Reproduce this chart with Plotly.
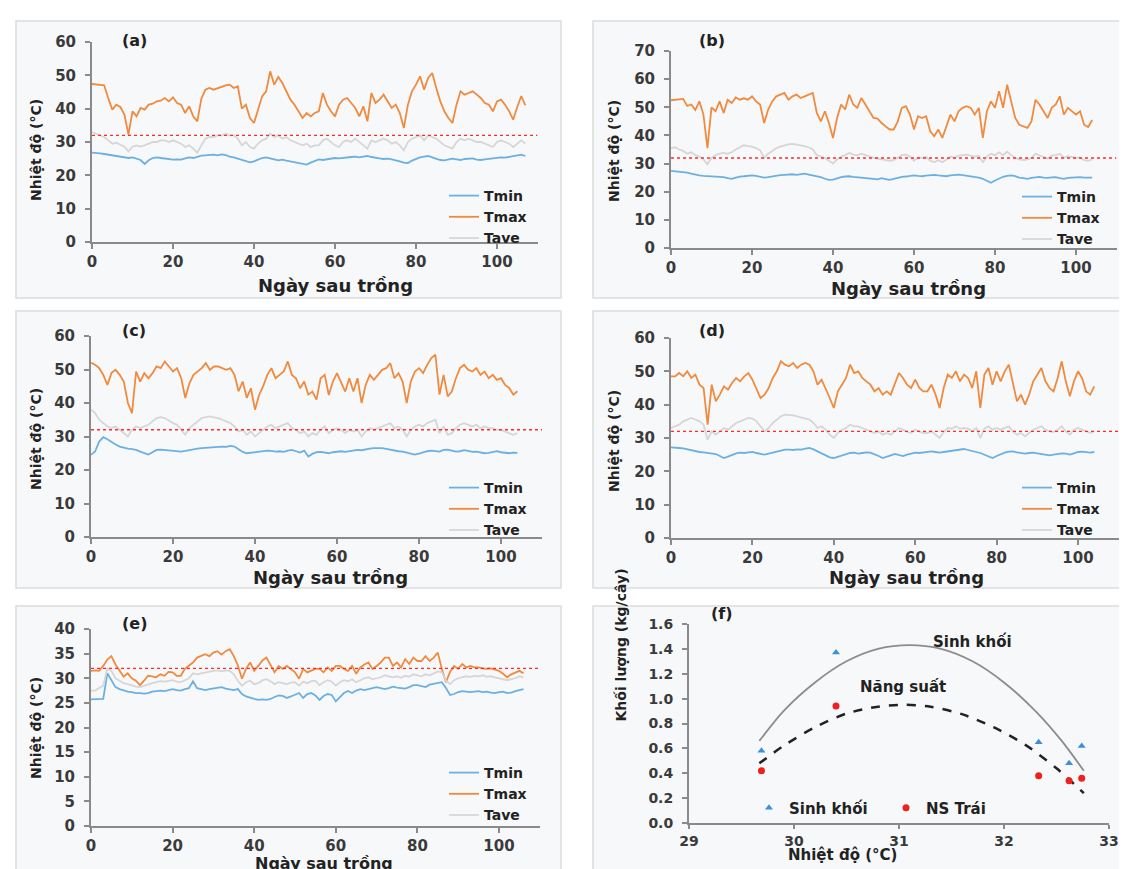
import plotly.graph_objects as go

W, H = 1127, 869

# ---------------- data ----------------
TMIN_A = [26.8,26.8,26.6,26.4,26.2,25.9,25.7,25.5,25.3,25.2,
          25.4,25.1,24.6,23.4,24.5,25.2,25.4,25.2,25.0,24.9,
          24.7,24.8,24.7,25.1,25.4,25.2,25.6,25.9,26.0,26.2,
          26.2,26.0,26.3,26.1,25.6,25.4,25.0,24.6,24.2,23.9,
          24.2,24.8,25.2,25.4,25.0,24.8,24.5,24.7,24.4,24.2,
          24.0,23.6,23.4,23.2,23.8,24.4,24.8,24.6,24.8,25.0,
          25.2,25.1,25.3,25.4,25.5,25.6,25.4,25.6,25.8,25.5,
          25.4,25.1,24.9,25.0,24.8,24.6,24.2,23.8,23.7,24.4,
          25.0,25.4,25.6,25.8,25.4,25.0,24.6,24.5,24.8,25.0,
          24.8,24.6,24.9,25.0,25.1,24.7,24.6,24.8,25.0,25.1,
          25.2,25.4,25.3,25.5,25.7,26.0,26.2,25.8]
TMAX_A = [47.4,47.2,47.0,47.0,43.2,39.7,41.2,40.5,38.2,32.2,
          39.2,37.7,40.2,39.7,41.2,41.5,42.2,42.4,43.2,42.2,
          43.4,41.7,41.2,38.7,40.7,37.7,36.2,43.0,45.7,46.2,
          45.7,46.2,46.7,47.0,47.2,46.2,46.7,40.0,41.2,37.2,
          35.7,39.7,43.7,45.2,51.2,47.2,49.5,47.7,45.2,42.7,
          41.2,39.2,37.2,38.7,37.7,38.7,39.2,44.7,41.2,39.2,
          37.7,41.2,42.7,43.2,41.7,40.2,37.7,40.7,36.2,44.7,
          41.7,42.7,44.2,42.2,40.2,41.2,38.7,34.2,41.2,45.2,
          47.2,49.7,45.7,49.2,50.7,46.2,42.2,39.2,37.2,35.7,
          41.2,45.2,44.2,44.7,45.2,44.2,43.2,41.7,41.2,39.2,
          42.2,42.7,41.2,39.2,36.7,40.5,43.8,41.0]
TAVE_A = [33.0,32.5,32.0,31.5,30.5,29.5,29.8,29.2,28.6,27.2,
          28.6,29.0,28.6,29.0,29.5,30.0,30.0,30.5,30.5,30.0,
          30.5,30.0,29.5,28.5,29.0,28.0,26.8,29.0,31.0,31.5,
          31.5,32.0,32.0,32.5,32.0,32.0,31.0,29.0,30.0,28.5,
          28.0,29.5,30.5,31.0,32.5,31.5,32.0,31.0,31.5,30.5,
          30.0,29.5,29.0,29.5,28.5,29.0,29.0,30.5,31.0,30.0,
          29.0,28.5,30.0,30.5,30.0,31.0,30.0,29.0,28.0,30.5,
          30.0,30.5,31.0,30.5,29.5,30.0,29.0,27.5,30.0,31.0,
          31.5,32.0,30.5,32.0,31.5,31.0,30.0,29.0,28.5,28.0,
          30.0,31.0,30.5,31.0,30.5,30.0,30.0,29.5,29.0,28.5,
          30.0,30.5,30.0,29.5,28.5,29.5,30.5,29.5]

TMIN_B = [27.4,27.3,27.2,27.0,26.8,26.4,26.0,25.8,25.6,25.5,
          25.6,25.5,25.4,25.2,24.8,24.6,25.0,25.4,25.5,25.6,
          25.8,25.6,25.3,25.0,25.2,25.5,25.7,25.9,26.0,26.1,
          26.2,26.0,26.3,26.4,26.1,25.8,25.5,25.2,24.6,24.2,
          24.3,24.8,25.2,25.4,25.5,25.3,25.2,25.0,24.9,24.8,
          24.6,24.4,24.8,24.5,24.2,24.6,25.0,25.3,25.4,25.6,
          25.8,25.6,25.5,25.7,25.9,26.0,25.8,25.6,25.5,25.8,
          26.0,26.1,25.9,25.7,25.4,25.2,25.0,24.6,23.8,23.2,
          24.0,24.8,25.3,25.6,25.8,25.5,25.0,24.8,24.6,24.9,
          25.2,25.3,25.0,24.9,25.1,25.2,24.8,24.6,24.9,25.0,
          25.1,25.2,25.0,25.1,25.0]
TMAX_B = [52.5,52.7,52.7,53.0,50.5,51.0,49.0,52.1,47.5,35.5,
          50.0,48.6,52.1,48.0,52.7,51.5,53.5,52.7,53.2,52.7,
          53.9,52.1,51.0,44.4,49.2,52.1,53.9,54.5,55.1,52.7,
          53.9,54.5,53.3,53.9,54.5,55.1,48.0,45.0,48.6,44.4,
          39.1,46.2,51.0,49.2,54.5,51.0,49.8,53.3,51.0,48.6,
          46.2,46.0,44.4,43.2,42.1,42.1,45.0,49.8,50.4,47.4,
          42.1,46.8,46.2,46.8,41.5,39.7,42.1,39.1,43.2,47.4,
          45.0,48.6,49.8,50.4,49.8,47.4,49.8,39.1,48.6,52.1,
          49.8,55.7,49.8,58.0,52.0,46.2,43.8,43.2,42.7,45.0,
          52.7,50.9,48.6,46.2,49.8,51.0,53.9,47.4,49.8,48.6,
          47.4,48.6,43.8,43.0,45.5]
TAVE_B = [35.5,35.8,35.0,34.5,33.5,34.0,33.0,32.5,31.5,29.8,
          32.0,33.0,33.5,33.8,33.5,34.0,35.0,35.8,36.5,36.2,
          36.0,35.5,34.8,32.0,33.5,34.5,35.5,36.0,36.5,36.8,
          37.0,36.8,36.5,36.2,35.8,35.0,33.0,32.5,32.0,31.0,
          30.0,31.5,32.5,33.0,33.8,33.2,33.0,33.5,33.0,32.5,
          32.0,31.8,31.5,31.2,31.0,31.2,32.0,33.0,33.2,32.5,
          31.0,32.2,32.0,32.4,31.0,30.5,31.2,30.5,31.4,32.5,
          32.0,32.8,33.0,33.2,32.8,32.5,32.8,30.5,32.5,33.5,
          33.0,34.0,33.0,34.2,33.0,32.0,31.5,31.2,31.5,32.0,
          33.5,33.0,32.5,31.8,32.8,33.0,33.5,32.0,32.6,32.4,
          32.0,32.2,31.2,31.0,31.5]

TMIN_C = [24.5,25.5,28.5,29.8,29.2,28.3,27.6,27.0,26.6,26.4,
          26.2,26.0,25.5,25.0,24.6,25.3,26.0,26.1,26.0,25.9,
          25.8,25.6,25.5,25.7,26.0,26.2,26.4,26.5,26.6,26.8,
          27.0,27.1,27.0,26.9,27.2,27.0,26.2,25.4,25.0,25.2,
          25.3,25.5,25.6,25.8,25.7,25.5,25.6,25.4,25.8,26.0,
          25.6,25.2,25.8,24.0,24.8,25.3,25.4,25.2,25.0,25.3,
          25.5,25.6,25.4,25.6,25.8,26.0,25.9,26.2,26.4,26.5,
          26.6,26.5,26.3,26.0,25.8,25.6,25.5,25.2,24.8,24.6,
          24.9,25.3,25.6,25.8,25.7,25.5,26.0,26.1,25.8,25.5,
          25.6,25.9,25.7,25.4,25.5,25.2,25.0,25.1,25.4,25.6,
          25.3,25.1,25.0,25.2,25.1]
TMAX_C = [52.0,51.4,50.4,48.4,45.4,49.0,49.9,48.4,46.4,40.0,
          37.0,49.4,46.4,48.9,47.4,48.9,50.9,50.4,52.4,50.9,
          49.4,50.4,47.4,41.5,45.9,48.4,49.4,50.4,51.9,49.9,
          50.9,50.9,50.4,49.9,50.4,48.4,43.5,46.4,41.5,44.4,
          38.0,42.4,45.0,48.4,50.4,47.4,48.4,49.4,52.4,48.4,
          47.4,44.4,46.4,42.5,43.4,41.0,47.4,48.4,42.4,46.4,
          48.9,46.4,43.4,47.4,43.4,47.4,40.0,45.4,48.4,46.9,
          48.4,49.9,50.4,51.9,47.4,48.9,46.4,40.0,46.4,49.4,
          50.4,48.9,51.4,53.4,54.4,42.5,48.4,42.0,43.4,47.4,
          50.4,51.4,49.9,49.4,50.4,48.4,49.4,47.4,48.4,46.9,
          47.4,45.4,44.5,42.5,43.5]
TAVE_C = [38.0,37.0,35.0,34.0,33.0,32.5,33.0,32.0,31.0,30.0,
          32.0,33.0,32.5,33.0,33.5,34.5,35.5,35.8,35.5,34.8,
          34.0,33.5,32.0,30.5,32.5,33.5,34.5,35.5,35.8,36.0,
          35.7,35.5,35.0,34.5,34.0,33.0,31.5,32.0,30.5,31.5,
          30.0,31.0,32.0,33.0,33.5,32.5,33.0,33.5,34.0,32.5,
          32.0,31.0,31.5,30.0,31.0,30.5,32.0,33.0,31.0,32.0,
          32.5,32.0,31.0,32.0,31.5,32.0,30.0,31.5,32.5,32.0,
          32.5,33.0,33.5,34.0,32.5,33.0,32.0,30.0,32.0,33.0,
          33.5,33.0,34.0,34.5,35.0,31.0,33.0,30.5,31.0,32.5,
          33.5,34.0,33.5,33.0,33.5,32.5,33.0,32.5,32.5,32.0,
          32.0,31.5,31.0,30.5,31.0]

TMIN_D = [27.2,27.2,27.0,26.9,26.6,26.3,26.0,25.8,25.7,25.6,
          25.4,25.2,24.6,24.0,24.4,25.0,25.4,25.6,25.5,25.7,
          25.8,25.5,25.2,25.0,25.3,25.6,25.9,26.2,26.5,26.5,
          26.4,26.6,26.5,26.8,27.0,26.6,26.0,25.4,24.8,24.2,
          24.0,24.4,24.9,25.3,25.5,25.6,25.3,25.5,25.7,25.6,
          25.2,24.6,24.0,24.3,24.8,25.2,25.0,24.6,25.0,25.4,
          25.6,25.5,25.7,25.9,26.0,25.8,25.6,25.8,26.0,26.1,
          26.3,26.6,26.7,26.4,26.0,25.8,25.5,25.0,24.4,24.0,
          24.6,25.2,25.6,25.9,26.0,25.7,25.4,25.3,25.5,25.6,
          25.4,25.2,25.0,24.8,25.0,25.2,25.4,25.3,25.0,25.4,
          25.8,25.9,25.7,25.6,25.8]
TMAX_D = [48.5,48.5,49.5,48.5,50.0,48.0,49.0,46.0,45.0,34.0,
          46.0,41.0,43.0,45.5,44.5,46.5,48.0,47.0,48.5,49.5,
          47.5,45.0,42.0,43.0,45.0,48.0,50.0,53.0,52.0,51.5,
          52.5,51.0,52.0,52.5,52.0,50.0,46.0,47.5,45.0,42.0,
          39.0,44.0,46.0,48.0,52.0,49.5,50.0,48.0,47.0,46.0,
          44.0,45.0,43.0,44.0,43.0,46.0,49.5,48.0,46.0,45.0,
          47.5,45.0,44.0,44.0,46.0,43.0,39.0,45.0,49.0,48.0,
          50.0,47.0,49.0,48.0,45.0,50.0,39.0,49.0,51.0,46.0,
          50.0,47.0,50.0,52.0,46.0,41.0,43.0,40.0,43.0,47.0,
          49.0,51.0,47.0,45.0,44.0,48.0,53.0,47.0,42.5,47.0,
          50.0,48.0,44.0,43.0,45.5]
TAVE_D = [33.0,33.5,34.0,35.0,35.5,36.0,35.5,35.0,34.0,29.5,
          32.0,31.0,32.0,33.0,32.5,33.5,34.5,35.0,35.5,36.0,
          35.8,35.0,33.5,32.0,33.0,34.5,35.5,36.5,37.0,37.0,
          36.8,36.5,36.2,36.0,35.5,34.5,33.0,33.5,32.5,31.0,
          30.0,31.5,32.5,33.0,34.0,33.5,33.5,33.0,32.5,32.2,
          31.5,32.0,31.0,31.5,31.0,32.0,33.0,32.5,31.8,31.5,
          32.5,32.0,31.5,31.5,32.0,31.0,30.0,31.8,33.0,32.8,
          33.5,32.8,33.0,32.8,32.0,33.0,30.0,32.8,33.5,32.5,
          33.0,32.5,33.0,33.5,32.0,31.0,31.5,30.5,31.5,32.5,
          33.0,33.5,32.5,32.0,31.8,32.5,33.5,32.0,31.0,32.5,
          33.0,32.5,31.8,31.5,32.0]

TMIN_E = [25.7,25.7,25.7,25.8,31.0,29.5,28.2,27.8,27.5,27.3,
          27.2,27.0,27.0,26.9,27.0,27.3,27.4,27.5,27.4,27.6,
          27.8,27.6,27.5,27.8,28.0,29.4,28.0,27.8,27.6,27.8,
          27.9,28.0,28.2,27.9,27.8,27.6,27.8,26.8,26.3,26.0,
          25.8,25.6,25.7,25.6,25.8,26.2,26.5,26.4,26.0,26.3,
          26.6,27.0,26.0,26.8,27.0,26.5,25.6,26.4,26.8,26.6,
          25.3,26.2,27.0,27.4,27.0,27.5,27.8,27.6,27.8,28.0,
          28.2,28.0,27.8,28.0,28.3,28.1,28.0,27.9,28.2,28.6,
          28.6,28.4,28.2,28.7,28.9,29.0,29.2,28.0,26.6,26.8,
          27.2,27.4,27.3,27.2,27.3,27.4,27.2,27.3,27.1,27.0,
          27.2,27.3,27.0,27.1,27.4,27.6,27.8]
TMAX_E = [31.5,31.6,31.5,32.5,33.8,34.5,32.8,31.5,30.3,31.0,
          30.0,29.5,28.6,29.5,30.5,30.4,30.2,30.8,30.5,31.3,
          31.2,30.5,30.5,31.9,32.5,33.2,34.2,34.6,34.9,34.5,
          35.2,35.5,34.8,35.5,35.9,34.5,32.6,29.9,31.9,33.2,
          31.5,32.5,33.6,34.2,32.8,31.2,32.5,31.9,32.5,31.9,
          31.2,29.9,31.9,31.2,31.5,31.9,31.9,31.2,32.2,31.5,
          32.5,32.5,31.9,31.5,32.5,30.9,32.2,32.8,33.2,31.9,
          32.5,33.2,34.2,34.2,32.5,33.2,32.2,33.9,32.9,34.2,
          33.5,33.5,34.5,33.5,34.2,35.2,31.9,29.2,31.3,32.5,
          31.9,32.9,32.2,32.5,32.2,32.2,32.0,31.9,32.0,31.7,
          31.5,30.9,30.2,30.8,31.2,31.5,31.0]
TAVE_E = [27.5,27.5,28.0,28.5,32.0,31.5,30.0,29.5,29.0,28.8,
          28.5,28.3,28.2,28.5,28.8,29.0,29.2,29.4,29.3,29.5,
          29.6,29.3,29.2,29.6,30.0,31.0,30.8,31.0,31.2,31.3,
          31.5,31.6,31.4,31.6,31.5,30.8,29.5,28.5,29.2,29.5,
          28.8,29.0,29.6,29.8,29.4,28.8,29.2,29.0,28.8,29.1,
          29.2,28.5,29.3,29.0,29.4,29.5,28.6,29.2,29.6,29.3,
          28.5,29.2,29.6,29.4,29.8,29.2,29.6,30.0,30.2,29.8,
          30.0,30.2,30.6,30.4,30.2,30.4,30.1,30.5,30.3,30.8,
          30.6,30.4,30.8,30.6,31.0,31.4,31.2,29.5,28.8,29.6,
          30.0,30.2,30.4,30.3,30.5,30.4,30.6,30.3,30.4,30.2,
          30.0,29.8,29.6,29.8,30.0,30.4,30.2]

THRESHOLD = 32  # red dashed reference temperature

# panel (f)
TEMP_F = [29.69, 30.40, 32.33, 32.62, 32.74]
BIOMASS_F = [0.58, 1.37, 0.65, 0.48, 0.62]
YIELD_F = [0.42, 0.94, 0.38, 0.34, 0.36]
BIOMASS_CURVE_X = [29.67, 29.9, 30.2, 30.5, 30.8, 31.1, 31.4, 31.7, 32.0, 32.3, 32.55, 32.76]
BIOMASS_CURVE_Y = [0.66, 0.90, 1.13, 1.30, 1.40, 1.43, 1.40, 1.30, 1.13, 0.90, 0.66, 0.42]
YIELD_CURVE_X = [29.67, 29.9, 30.2, 30.5, 30.8, 31.05, 31.3, 31.6, 31.9, 32.2, 32.5, 32.76]
YIELD_CURVE_Y = [0.48, 0.62, 0.77, 0.88, 0.935, 0.95, 0.935, 0.875, 0.77, 0.63, 0.44, 0.24]

SERIES_NAMES = ["Tmin", "Tmax", "Tave"]
SERIES_COLORS = ["#6cb0e2", "#f08a3e", "#d6d6d6"]

# ---------------- layout helpers ----------------
def fx(p):
    return p / W

def fy(p):
    return 1 - p / H

TICK_FONT = dict(family="DejaVu Sans", size=15, color="#3a3a3a", weight="bold")
TICK_FONT_F = dict(family="DejaVu Sans", size=14, color="#3a3a3a", weight="bold")
AX_COLOR = "#8a8a8a"
TITLE_FONT = "DejaVu Sans"

panels = [
    dict(key="a", data=(TMIN_A, TMAX_A, TAVE_A), x=(84, 529.5), y=(234, 34), ymax=60, dtick=10,
         box=(8, 13, 553, 290), label=(126, 33), ytitle=(28, 142), xtitle=(327, 277), leg=(436, 172), xt=18),
    dict(key="b", data=(TMIN_B, TMAX_B, TAVE_B), x=(663, 1108.5), y=(240, 43), ymax=70, dtick=10,
         box=(585, 13, 1124, 290), label=(704, 33), ytitle=(606, 143), xtitle=(900, 280), leg=(1009, 173), xt=18),
    dict(key="c", data=(TMIN_C, TMAX_C, TAVE_C), x=(83, 534), y=(529, 328), ymax=60, dtick=10,
         box=(8, 303, 553, 580), label=(126, 323), ytitle=(28, 431), xtitle=(322, 569), leg=(436, 464), xt=18),
    dict(key="d", data=(TMIN_D, TMAX_D, TAVE_D), x=(663, 1110.7), y=(530, 330), ymax=60, dtick=10,
         box=(585, 303, 1124, 580), label=(704, 323), ytitle=(606, 433), xtitle=(898, 569), leg=(1009, 464), xt=18),
    dict(key="e", data=(TMIN_E, TMAX_E, TAVE_E), x=(83, 531.8), y=(818, 621), ymax=40, dtick=5,
         box=(8, 598, 553, 869), label=(126, 615), ytitle=(28, 720), xtitle=(316, 855), leg=(436, 749), xt=16),
]

fig = go.Figure()
layout = dict(
    width=W, height=H,
    margin=dict(l=0, r=0, t=0, b=0, pad=0, autoexpand=False),
    paper_bgcolor="white",
    plot_bgcolor="rgba(0,0,0,0)",
    shapes=[], annotations=[],
)

for i, p in enumerate(panels, start=1):
    xs = "x" if i == 1 else f"x{i}"
    ys = "y" if i == 1 else f"y{i}"
    leg = "legend" if i == 1 else f"legend{i}"
    for name, vals, col in zip(SERIES_NAMES, p["data"], SERIES_COLORS):
        fig.add_trace(go.Scatter(
            x=list(range(len(vals))), y=vals, mode="lines", name=name,
            line=dict(color=col, width=1.8), xaxis=xs, yaxis=ys, legend=leg,
        ))
    fig.add_trace(go.Scatter(
        x=[0, 110], y=[THRESHOLD, THRESHOLD], mode="lines", showlegend=False,
        line=dict(color="#ff2b2b", width=1.4, dash="dot"), xaxis=xs, yaxis=ys,
    ))
    axsuf = "" if i == 1 else str(i)
    layout["xaxis" + axsuf] = dict(
        domain=[fx(p["x"][0]), fx(p["x"][1])], range=[0, 110], anchor=ys,
        tickvals=[0, 20, 40, 60, 80, 100], showline=True, linecolor=AX_COLOR, linewidth=2,
        ticks="outside", ticklen=5, tickcolor=AX_COLOR, tickwidth=1.5, automargin=False,
        showgrid=False, zeroline=False, tickfont=TICK_FONT, ticklabelstandoff=0,
    )
    layout["yaxis" + axsuf] = dict(
        domain=[fy(p["y"][0]), fy(p["y"][1])], range=[0, p["ymax"]], anchor=xs,
        dtick=p["dtick"], showline=True, linecolor=AX_COLOR, linewidth=2,
        ticks="outside", ticklen=5, tickcolor=AX_COLOR, tickwidth=1.5, automargin=False,
        showgrid=False, zeroline=False, tickfont=TICK_FONT, ticklabelstandoff=6,
    )
    layout[leg] = dict(
        x=fx(p["leg"][0]), y=fy(p["leg"][1]), xanchor="left", yanchor="top",
        bgcolor="rgba(0,0,0,0)",
        font=dict(family="DejaVu Sans", size=14, color="#222222", weight="bold"),
        itemwidth=30, tracegroupgap=0,
    )
    b = p["box"]
    layout["shapes"].append(dict(
        type="rect", xref="paper", yref="paper", x0=fx(b[0]), x1=fx(b[2]), y0=fy(b[3]), y1=fy(b[1]),
        fillcolor="#f7f8f9", line=dict(color="#dcdcdc", width=1.5), layer="below",
    ))
    layout["annotations"] += [
        dict(text=f"<b>({p['key']})</b>", x=fx(p["label"][0]), y=fy(p["label"][1]), xref="paper", yref="paper",
             showarrow=False, xanchor="center", yanchor="middle", font=dict(family=TITLE_FONT, size=16, color="#222")),
        dict(text="<b>Nhiệt độ (°C)</b>", x=fx(p["ytitle"][0]), y=fy(p["ytitle"][1]), xref="paper", yref="paper",
             showarrow=False, textangle=-90, xanchor="center", yanchor="middle",
             font=dict(family=TITLE_FONT, size=14, color="#222")),
        dict(text="<b>Ngày sau trồng</b>", x=fx(p["xtitle"][0]), y=fy(p["xtitle"][1]), xref="paper", yref="paper",
             showarrow=False, xanchor="center", yanchor="middle",
             font=dict(family=TITLE_FONT, size=p["xt"], color="#222")),
    ]

# ---------------- panel (f) ----------------
fig.add_trace(go.Scatter(x=BIOMASS_CURVE_X, y=BIOMASS_CURVE_Y, mode="lines", showlegend=False,
                         line=dict(color="#8c8c8c", width=1.8, shape="spline", smoothing=0.8),
                         xaxis="x6", yaxis="y6"))
fig.add_trace(go.Scatter(x=YIELD_CURVE_X, y=YIELD_CURVE_Y, mode="lines", showlegend=False,
                         line=dict(color="#222222", width=2.5, dash="dash", shape="spline", smoothing=0.8),
                         xaxis="x6", yaxis="y6"))
fig.add_trace(go.Scatter(x=TEMP_F, y=BIOMASS_F, mode="markers", name="Sinh khối",
                         marker=dict(symbol="triangle-up", size=7, color="#3d8fdc"),
                         xaxis="x6", yaxis="y6", legend="legend6"))
fig.add_trace(go.Scatter(x=TEMP_F, y=YIELD_F, mode="markers", name="NS Trái",
                         marker=dict(symbol="circle", size=7, color="#f02020"),
                         xaxis="x6", yaxis="y6", legend="legend6"))

layout["xaxis6"] = dict(
    domain=[fx(681), fx(1101)], range=[29, 33], anchor="y6", dtick=1,
    showline=True, linecolor=AX_COLOR, linewidth=2, ticks="outside", ticklen=4, tickcolor=AX_COLOR,
    tickwidth=1.5, showgrid=False, zeroline=False, tickfont=TICK_FONT_F, ticklabelstandoff=0,
    automargin=False,
)
layout["yaxis6"] = dict(
    domain=[fy(815), fy(616)], range=[0, 1.6], anchor="x6", dtick=0.2, tickformat=".1f",
    showline=True, linecolor=AX_COLOR, linewidth=2, ticks="outside", ticklen=5, tickcolor=AX_COLOR,
    tickwidth=1.5, showgrid=False, zeroline=False, tickfont=TICK_FONT_F, ticklabelstandoff=6,
    automargin=False,
)
layout["legend6"] = dict(
    x=fx(741), y=fy(800), xanchor="left", yanchor="middle", orientation="h",
    bgcolor="rgba(0,0,0,0)",
    font=dict(family="DejaVu Sans", size=15, color="#222222", weight="bold"),
    itemwidth=30, entrywidth=92, entrywidthmode="pixels",
)
layout["shapes"].append(dict(
    type="rect", xref="paper", yref="paper", x0=fx(585), x1=fx(1124), y0=fy(869), y1=fy(598),
    fillcolor="#f7f8f9", line=dict(color="#dcdcdc", width=1.5), layer="below",
))
layout["annotations"] += [
    dict(text="<b>(f)</b>", x=fx(714), y=fy(617), xref="paper", yref="paper", showarrow=False,
         font=dict(family=TITLE_FONT, size=16, color="#222")),
    dict(text="<b>Khối lượng (kg/cây)</b>", x=fx(612), y=fy(715), xref="paper", yref="paper", showarrow=False,
         textangle=-90, font=dict(family=TITLE_FONT, size=14, color="#222")),
    dict(text="<b>Nhiệt độ (°C)</b>", x=fx(891), y=fy(858), xref="paper", yref="paper", showarrow=False,
         font=dict(family=TITLE_FONT, size=15, color="#222")),
    dict(text="<b>Sinh khối</b>", x=fx(1006), y=fy(645), xref="paper", yref="paper", showarrow=False,
         font=dict(family=TITLE_FONT, size=15, color="#222")),
    dict(text="<b>Năng suất</b>", x=fx(940), y=fy(690), xref="paper", yref="paper", showarrow=False,
         font=dict(family=TITLE_FONT, size=15, color="#222")),
]

fig.update_layout(**layout)
fig.write_html("out.html")
